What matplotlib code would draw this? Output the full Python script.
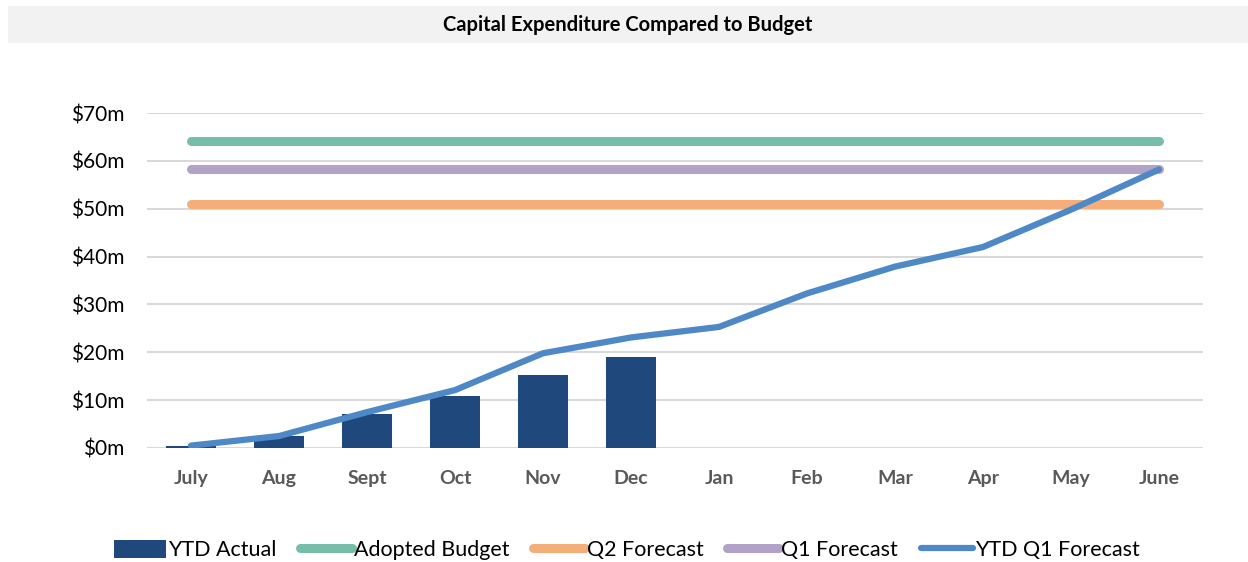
import matplotlib
matplotlib.use("Agg")
import matplotlib.pyplot as plt
from matplotlib.patches import Patch, Rectangle
from matplotlib.lines import Line2D

plt.rcParams['font.family'] = ['Lato', 'DejaVu Sans']

months = ["July", "Aug", "Sept", "Oct", "Nov", "Dec", "Jan", "Feb", "Mar", "Apr", "May", "June"]
ytd_actual = [0.4, 2.5, 7.1, 10.9, 15.3, 19.1]
ytd_q1_forecast = [0.5, 2.5, 7.5, 12.1, 19.8, 23.1, 25.3, 32.3, 37.9, 42.0, 49.8, 58.2]
adopted_budget = 64.2
q1_forecast = 58.2
q2_forecast = 51.0
yticks = [0, 10, 20, 30, 40, 50, 60, 70]

c_bar = "#1F497D"
c_adopt = "#76BEAA"
c_q2 = "#F4AE7A"
c_q1 = "#B3A2C8"
c_line = "#4F88C6"

fig = plt.figure(figsize=(12.48, 5.62), dpi=100)
# title band
fig.patches.append(Rectangle((8/1248, 1-43/562), 1-8/1248, 37/562, transform=fig.transFigure,
                             facecolor="#F2F2F2", edgecolor="none", zorder=0))
fig.text(628/1248, 1-25/562, "Capital Expenditure Compared to Budget", ha="center", va="center",
         fontsize=14.5, fontweight="bold", color="black")

ax = fig.add_axes([147/1248, 1-448/562, (1203-147)/1248, (448-113)/562])
x = list(range(len(months)))
ax.set_xlim(-0.5, len(months) - 0.5)
ax.set_ylim(0, 70)
ax.set_yticks(yticks)
ax.set_yticklabels([f"${v}m" for v in yticks], fontsize=15, color="black")
ax.set_xticks(x)
ax.set_xticklabels(months, fontsize=14, fontweight="bold", color="#595959")
ax.tick_params(axis="both", length=0)
ax.tick_params(axis="y", pad=16)
ax.tick_params(axis="x", pad=16)
for s in ax.spines.values():
    s.set_visible(False)
ax.grid(axis="y", color="#D9D9D9", lw=1.5, zorder=0)
ax.set_axisbelow(True)

ax.bar(x[:len(ytd_actual)], ytd_actual, width=0.56, color=c_bar, zorder=2)
ax.plot([x[0], x[-1]], [adopted_budget, adopted_budget], color=c_adopt, lw=6.5, solid_capstyle="round", zorder=3)
ax.plot([x[0], x[-1]], [q2_forecast, q2_forecast], color=c_q2, lw=6.5, solid_capstyle="round", zorder=3)
ax.plot([x[0], x[-1]], [q1_forecast, q1_forecast], color=c_q1, lw=6.5, solid_capstyle="round", zorder=3)
ax.plot(x, ytd_q1_forecast, color=c_line, lw=4.5, solid_capstyle="round", solid_joinstyle="round", zorder=4)

handles = [
    Patch(facecolor=c_bar, edgecolor="none"),
    Line2D([], [], color=c_adopt, lw=6.5, solid_capstyle="round"),
    Line2D([], [], color=c_q2, lw=6.5, solid_capstyle="round"),
    Line2D([], [], color=c_q1, lw=6.5, solid_capstyle="round"),
    Line2D([], [], color=c_line, lw=4.5, solid_capstyle="round"),
]
labels = ["YTD Actual", "Adopted Budget", "Q2 Forecast", "Q1 Forecast", "YTD Q1 Forecast"]
fig.legend(handles, labels, loc="center", bbox_to_anchor=(627/1248, 1-550/562), ncol=5, frameon=False,
           fontsize=15.5, handlelength=2.4, handletextpad=0.1, columnspacing=1.1, handleheight=0.9)

fig.savefig("out.png", dpi=100)
